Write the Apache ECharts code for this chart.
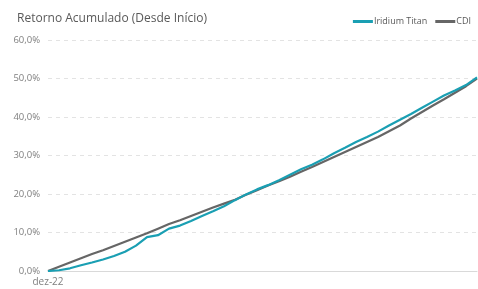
<!DOCTYPE html>
<html>
<head>
<meta charset="utf-8">
<script src="https://cdn.jsdelivr.net/npm/echarts@6/dist/echarts.min.js"></script>
<style>
  html, body { margin: 0; padding: 0; background: #fff; }
  #chart { width: 478px; height: 289px; }
</style>
</head>
<body>
<div id="chart"></div>
<script>
var meses = ['jan', 'fev', 'mar', 'abr', 'mai', 'jun', 'jul', 'ago', 'set', 'out', 'nov', 'dez'];

// dez-22 .. mar-26
var categorias = ['dez-22'];
for (var a = 23; a <= 26; a++) {
    for (var m = 0; m < 12; m++) {
        if (a === 26 && m > 2) break;
        categorias.push(meses[m] + '-' + a);
    }
}

var iridium = [0, 0.2, 0.7, 1.5, 2.2, 3.0, 3.9, 5.0, 6.6, 8.8,
    9.3, 11.0, 11.8, 13.0, 14.3, 15.5, 16.8, 18.4, 19.9, 21.2,
    22.3, 23.6, 25.0, 26.4, 27.6, 29.0, 30.6, 32.0, 33.5, 34.8,
    36.2, 37.8, 39.3, 40.8, 42.4, 44.0, 45.6, 46.9, 48.3, 50.3];

var cdi = [0, 1.1, 2.2, 3.3, 4.4, 5.4, 6.5, 7.6, 8.7, 9.8,
    11.0, 12.2, 13.2, 14.3, 15.4, 16.5, 17.5, 18.5, 19.8, 21.0,
    22.2, 23.3, 24.5, 25.8, 27.0, 28.3, 29.6, 30.9, 32.2, 33.5,
    34.8, 36.3, 37.8, 39.6, 41.3, 43.0, 44.6, 46.3, 48.0, 50.0];

var fonte = '"Open Sans", "Noto Sans", sans-serif';

var myChart = echarts.init(document.getElementById('chart'));

option = {
    animation: false,
    title: {
        text: 'Retorno Acumulado (Desde Início)',
        left: 12,
        top: 8,
        textStyle: { fontFamily: fonte, fontSize: 12, fontWeight: 'normal', color: '#595959' }
    },
    legend: {
        right: 2,
        top: 12,
        itemWidth: 20,
        itemHeight: 3,
        itemGap: 8,
        icon: 'rect',
        textStyle: { fontFamily: fonte, fontSize: 9, color: '#595959', padding: [0, 0, 0, -4] },
        data: ['Iridium Titan', 'CDI']
    },
    grid: { left: 48, right: 1, top: 40, bottom: 18 },
    xAxis: {
        type: 'category',
        data: categorias,
        boundaryGap: false,
        axisLine: { lineStyle: { color: '#d9d9d9', width: 1 } },
        axisTick: { show: false },
        axisLabel: {
            interval: function (i) { return i === 0; },
            fontFamily: fonte, fontSize: 10, color: '#7f7f7f', margin: 6
        },
        splitLine: { show: false }
    },
    yAxis: {
        type: 'value',
        min: 0,
        max: 60,
        interval: 10,
        axisLine: { show: false },
        axisTick: { show: false },
        axisLabel: {
            fontFamily: fonte, fontSize: 9.5, color: '#7f7f7f', margin: 8,
            formatter: function (v) { return v.toFixed(1).replace('.', ',') + '%'; }
        },
        splitLine: { lineStyle: { color: '#e3e3e3', type: [4, 4], width: 1 } }
    },
    series: [
        {
            name: 'Iridium Titan',
            type: 'line',
            data: iridium,
            showSymbol: false,
            lineStyle: { color: '#1a9fb3', width: 2.2 },
            itemStyle: { color: '#1a9fb3' },
            z: 3
        },
        {
            name: 'CDI',
            type: 'line',
            data: cdi,
            showSymbol: false,
            lineStyle: { color: '#666666', width: 2.2 },
            itemStyle: { color: '#666666' },
            z: 2
        }
    ]
};

myChart.setOption(option);
</script>
</body>
</html>
